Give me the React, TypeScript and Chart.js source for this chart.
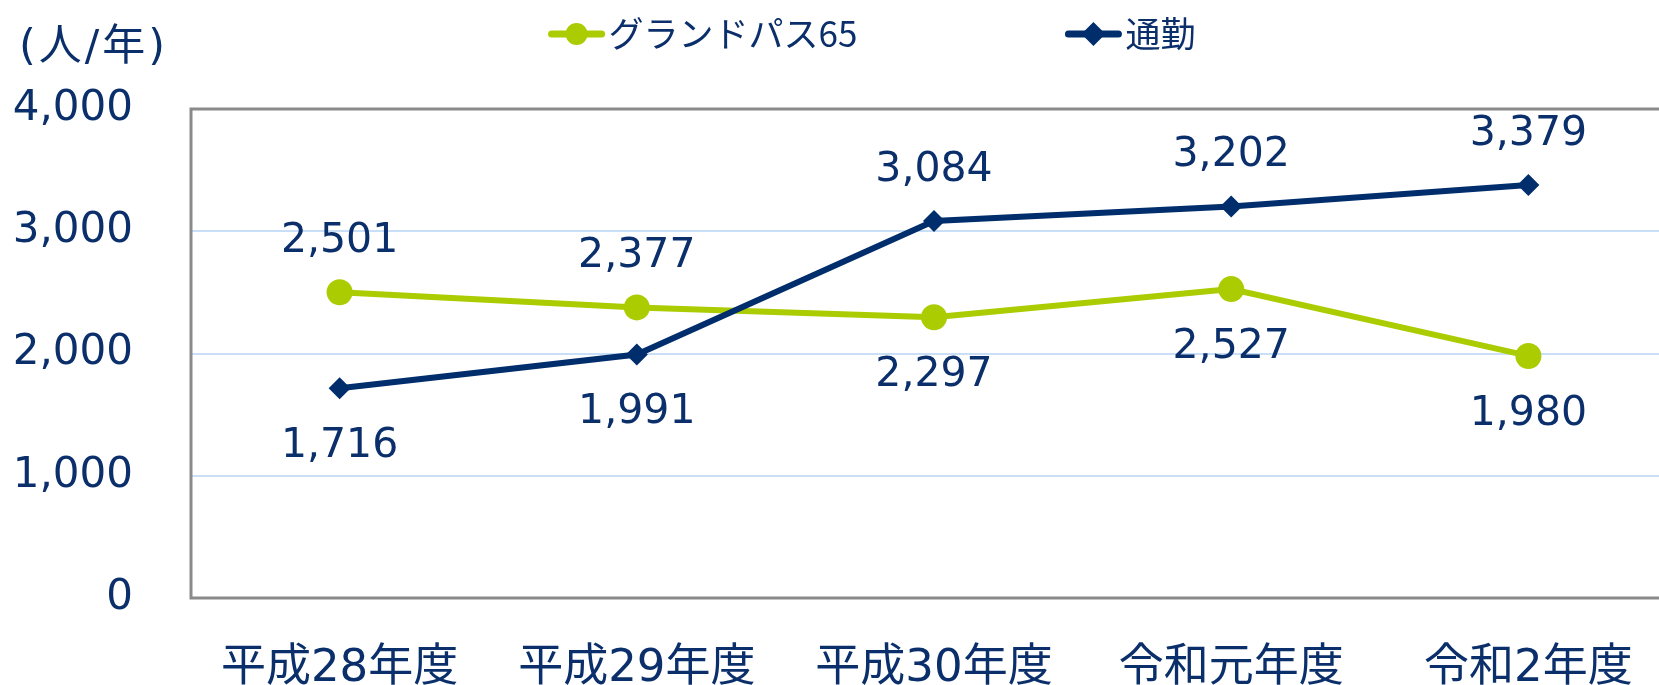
import React, { useEffect, useRef } from "react";
import { Chart, registerables } from "chart.js";

Chart.register(...registerables);

// ---- data ----
const categories = ["平成28年度", "平成29年度", "平成30年度", "令和元年度", "令和2年度"];
const grandPassName = "グランドパス65";
const commuteName = "通勤";
const grandPass = [2501, 2377, 2297, 2527, 1980];
const commute = [1716, 1991, 3084, 3202, 3379];
const grandPassLabelSide = ["above", "above", "below", "below", "below"];
const commuteLabelSide = ["below", "below", "above", "above", "above"];
const yMin = 0;
const yMax = 4000;
const yStep = 1000;
const unitLabel = "(人/年)";

// ---- styles ----
const LIME = "#AACC00";
const NAVY = "#002D6B";
const TEXT = "#0B2F6B";
const GRID = "#C9DEF7";
const BORDER = "#8A8A8A";
const NUM_FONT = "'DejaVu Sans', 'Noto Sans CJK JP', sans-serif";
const CJK_FONT = "'Noto Sans CJK JP', sans-serif";

const CANVAS_W = 1700;
const CANVAS_H = 685;
const LEGEND_CENTER_X = 872;
const LEGEND_Y = 34;
const LEGEND_GAP = 208;
const LEGEND_LINE = 56;

const fmt = (v: number) => v.toLocaleString("en-US");

const decorPlugin = {
  id: "decor",
  beforeDatasetsDraw(chart: any) {
    const { ctx, chartArea: a } = chart;
    ctx.save();
    ctx.strokeStyle = BORDER;
    ctx.lineWidth = 3;
    ctx.strokeRect(a.left, a.top, a.right - a.left, a.bottom - a.top);
    ctx.restore();
  },
  afterDatasetsDraw(chart: any) {
    const { ctx } = chart;
    ctx.save();
    // data labels
    ctx.font = `41px ${NUM_FONT}`;
    ctx.fillStyle = TEXT;
    ctx.textAlign = "center";
    ctx.textBaseline = "middle";
    chart.data.datasets.forEach((ds: any, di: number) => {
      const meta = chart.getDatasetMeta(di);
      meta.data.forEach((pt: any, i: number) => {
        const side = ds.labelSide[i];
        const dy = side === "above" ? -51 : 58;
        ctx.fillText(fmt(ds.data[i]), pt.x, pt.y + dy);
      });
    });

    // unit label
    ctx.font = `43px ${NUM_FONT}`;
    ctx.textAlign = "left";
    (ctx as any).letterSpacing = "3px";
    ctx.fillText(unitLabel, 19, 49);
    (ctx as any).letterSpacing = "0px";

    // legend
    ctx.font = `35px ${CJK_FONT}`;
    const items = chart.data.datasets.map((ds: any) => ({
      ds,
      w: LEGEND_LINE + 4 + ctx.measureText(ds.label).width,
    }));
    const total = items.reduce((s: number, it: any) => s + it.w, 0) + LEGEND_GAP * (items.length - 1);
    let x = LEGEND_CENTER_X - total / 2;
    items.forEach((it: any) => {
      const ds = it.ds;
      ctx.strokeStyle = ds.borderColor;
      ctx.fillStyle = ds.borderColor;
      ctx.lineWidth = 7;
      ctx.lineCap = "round";
      ctx.beginPath();
      ctx.moveTo(x + 3, LEGEND_Y);
      ctx.lineTo(x + LEGEND_LINE - 3, LEGEND_Y);
      ctx.stroke();
      const cx = x + LEGEND_LINE / 2;
      ctx.beginPath();
      if (ds.pointStyle === "circle") {
        ctx.arc(cx, LEGEND_Y, 11, 0, Math.PI * 2);
      } else {
        const r = 12;
        ctx.moveTo(cx, LEGEND_Y - r);
        ctx.lineTo(cx + r, LEGEND_Y);
        ctx.lineTo(cx, LEGEND_Y + r);
        ctx.lineTo(cx - r, LEGEND_Y);
        ctx.closePath();
      }
      ctx.fill();
      ctx.fillStyle = TEXT;
      ctx.textAlign = "left";
      ctx.textBaseline = "middle";
      ctx.fillText(ds.label, x + LEGEND_LINE + 4, LEGEND_Y);
      x += it.w + LEGEND_GAP;
    });
    ctx.restore();
  },
};

export default function App() {
  const ref = useRef<HTMLCanvasElement | null>(null);

  useEffect(() => {
    if (!ref.current) return;
    const chart = new Chart(ref.current, {
      type: "line",
      data: {
        labels: categories,
        datasets: [
          {
            label: grandPassName,
            data: grandPass,
            borderColor: LIME,
            backgroundColor: LIME,
            borderWidth: 6,
            pointStyle: "circle",
            pointRadius: 13,
            pointHoverRadius: 13,
            pointBorderWidth: 0,
            tension: 0,
            order: 1,
            labelSide: grandPassLabelSide,
          } as any,
          {
            label: commuteName,
            data: commute,
            borderColor: NAVY,
            backgroundColor: NAVY,
            borderWidth: 6,
            pointStyle: "rectRot",
            pointRadius: 11,
            pointHoverRadius: 11,
            pointBorderWidth: 0,
            tension: 0,
            order: 0,
            labelSide: commuteLabelSide,
          } as any,
        ],
      },
      options: {
        responsive: false,
        animation: false,
        events: [],
        layout: { padding: { top: 109, left: 0, right: CANVAS_W - 1677, bottom: 0 } },
        plugins: {
          legend: { display: false },
          tooltip: { enabled: false },
          title: { display: false },
        },
        scales: {
          x: {
            offset: true,
            grid: { display: false, drawTicks: false },
            border: { display: false },
            ticks: {
              padding: 44,
              color: TEXT,
              font: { family: NUM_FONT, size: 45 },
              maxRotation: 0,
              autoSkip: false,
            },
            afterFit: (scale: any) => {
              scale.height = 87;
            },
          },
          y: {
            min: yMin,
            max: yMax,
            grid: {
              color: (c: any) => (c.tick && (c.tick.value === yMax || c.tick.value === yMin) ? "rgba(0,0,0,0)" : GRID),
              lineWidth: 2,
              drawTicks: false,
            },
            border: { display: false },
            ticks: {
              stepSize: yStep,
              padding: 58,
              color: TEXT,
              font: { family: NUM_FONT, size: 42 },
              callback: (v: any) => fmt(Number(v)),
            },
            afterFit: (scale: any) => {
              scale.width = 191;
            },
          },
        },
      },
      plugins: [decorPlugin],
    });
    return () => chart.destroy();
  }, []);

  return (
    <div
      style={{
        position: "fixed",
        left: 0,
        top: 0,
        width: 1659,
        height: 685,
        overflow: "hidden",
        background: "#ffffff",
      }}
    >
      <canvas ref={ref} width={CANVAS_W} height={CANVAS_H} style={{ display: "block" }} />
    </div>
  );
}
